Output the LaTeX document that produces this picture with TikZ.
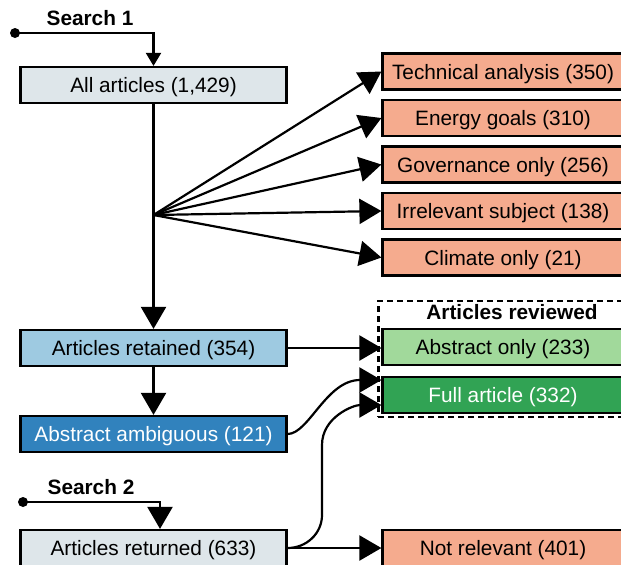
\documentclass[tikz,border=0pt]{standalone}
\usepackage{fontspec}
\setmainfont{Liberation Sans}
\usepackage{tikz}
\usetikzlibrary{arrows.meta,positioning,fit}
\definecolor{allgray}{HTML}{DEE6EA}
\definecolor{retainblue}{HTML}{9ECAE1}
\definecolor{ambigblue}{HTML}{3182BD}
\definecolor{salmon}{HTML}{F5AB8E}
\definecolor{lightgreen}{HTML}{A1D99B}
\definecolor{darkgreen}{HTML}{31A354}
\tikzstyle{leftbox}  = [rectangle, draw, line width=1.1pt, inner sep=0pt, text depth=0pt,
    minimum width=133pt, minimum height=18pt, text centered]
\tikzstyle{rightbox} = [rectangle, draw, line width=1.1pt, inner sep=0pt, text depth=0pt,
    minimum width=120.5pt, minimum height=18pt, text centered]
\tikzstyle{line} = [draw, line width=1.1pt, -{Triangle[length=11pt,width=12.5pt]}]
\tikzstyle{smallline} = [draw, line width=1.1pt, -{Triangle[length=6.5pt,width=7.5pt]}]
\tikzstyle{searchlabel} = [inner sep=0pt, font=\fontsize{10.4pt}{12pt}\selectfont\bfseries]

\begin{document}
\begin{tikzpicture}[x=0.5pt,y=0.5pt, every node/.style={font=\fontsize{10.4pt}{12pt}\selectfont}]
    \useasboundingbox (0,0) rectangle (621,-564);
    % Place nodes
    \node [leftbox, fill=allgray] (allArt) at (153.5,-85) {All articles (1,429)};
    \node [leftbox, fill=retainblue] (retained) at (153.5,-348) {Articles retained (354)};
    \node [leftbox, fill=ambigblue, text=white, below of=retained, node distance=43pt] (ambiguous) {Abstract ambiguous (121)};
    \node [leftbox, fill=allgray] (returned) at (153.5,-548) {Articles returned (633)};

    \node [rightbox, fill=salmon] (technical) at (503,-71.5) {Technical analysis (350)};
    \node [rightbox, fill=salmon, below of=technical, node distance=23.25pt] (energy) {Energy goals (310)};
    \node [rightbox, fill=salmon, below of=energy, node distance=23.25pt] (governance) {Governance only (256)};
    \node [rightbox, fill=salmon, below of=governance, node distance=23.25pt] (irrelevant) {Irrelevant subject (138)};
    \node [rightbox, fill=salmon, below of=irrelevant, node distance=23.25pt] (climate) {Climate only (21)};

    \node [rightbox, fill=lightgreen] (abstractOnly) at (503,-347) {Abstract only (233)};
    \node [rightbox, fill=darkgreen, text=white, below of=abstractOnly, node distance=24pt] (fullArticle) {Full article (332)};
    \node [rightbox, fill=salmon, right of=returned, node distance=174.75pt] (notRelevant) {Not relevant (401)};

    \node [searchlabel] (reviewedLabel) at (512,-312) {Articles reviewed};
    \node [draw, dashed, dash pattern=on 3pt off 2pt, line width=1.1pt, inner sep=1.5pt,
        fit=(reviewedLabel) (abstractOnly) (fullArticle)] (reviewed) {};

    \node [searchlabel] (search1) at (90,-18) {Search 1};
    \node [searchlabel] (search2) at (91,-487) {Search 2};
    \coordinate (start1) at (15,-33);
    \coordinate (start2) at (23,-502);
    \coordinate (fan) at (153.5,-215);
    \coordinate (bendLow) at (322,-515);
    \coordinate (bendHigh) at (322,-445);

    % Connect nodes
    \fill (start1) circle (2.5pt);
    \fill (start2) circle (2.5pt);
    \path [smallline] (start1) -| (allArt.north);
    \path [line] (start2) -| ([xshift=3.25pt]returned.north);

    \path [line] (allArt) -- (retained);
    \path [line] (fan) -- (technical.west);
    \path [line] (fan) -- (energy.west);
    \path [line] (fan) -- (governance.west);
    \path [line] (fan) -- (irrelevant.west);
    \path [line] (fan) -- (climate.west);

    \path [line] (retained) -- (ambiguous);
    \path [line] (retained.east) -- (retained.east -| abstractOnly.west);
    \path [line] (ambiguous.east) to[out=0,in=180,out looseness=0.5,in looseness=1.3] ([yshift=7.5pt]fullArticle.west);
    \path [line] (returned.east) to[out=0,in=-90] (bendLow) -- (bendHigh)
        to[out=90,in=180] ([yshift=-5pt]fullArticle.west);
    \path [line] (returned) -- (notRelevant);
\end{tikzpicture}
\end{document}
